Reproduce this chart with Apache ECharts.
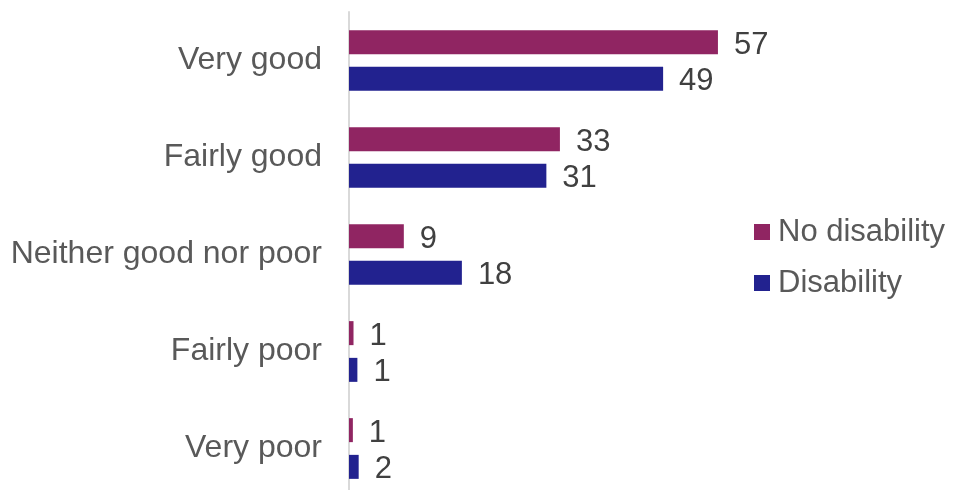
<!DOCTYPE html>
<html>
<head>
<meta charset="utf-8">
<script src="https://cdn.jsdelivr.net/npm/echarts@6/dist/echarts.min.js"></script>
<style>html,body{margin:0;padding:0;background:#fff;overflow:hidden}#c{width:953px;height:500px}</style>
</head>
<body>
<div id="c"></div>
<script>
const categories = ['Very good', 'Fairly good', 'Neither good nor poor', 'Fairly poor', 'Very poor'];
const noDisability = [57.2, 32.7, 8.5, 0.7, 0.6];
const disability = [48.7, 30.6, 17.5, 1.3, 1.5];
const seriesNames = ['No disability', 'Disability'];

const chart = echarts.init(document.getElementById('c'));
const font = 'Liberation Sans, Arial, sans-serif';
const lbl = {
  show: true, position: 'right', distance: 16, offset: [0, 3],
  fontFamily: font, fontSize: 31, color: '#404040',
  formatter: p => Math.round(p.value)
};
chart.setOption({
  animation: false,
  grid: { left: 349, top: 12, right: 217, bottom: 3 },
  xAxis: { type: 'value', min: 0, max: 60, show: false },
  yAxis: {
    type: 'category', data: categories, inverse: true,
    axisLine: { show: true, lineStyle: { color: '#d9d9d9', width: 2 } },
    axisTick: { show: false },
    axisLabel: { fontFamily: font, fontSize: 32, color: '#595959', margin: 27 }
  },
  legend: {
    orient: 'vertical', left: 754, top: 216, padding: 0,
    itemWidth: 16, itemHeight: 16, itemGap: 19, icon: 'rect',
    textStyle: { fontFamily: font, fontSize: 31, color: '#595959', lineHeight: 32, padding: [0, 0, 0, 3] },
    data: seriesNames
  },
  series: [
    { name: seriesNames[0], type: 'bar', data: noDisability, barWidth: 24, barGap: '53%',
      itemStyle: { color: '#902562' }, label: lbl },
    { name: seriesNames[1], type: 'bar', data: disability, barWidth: 24,
      itemStyle: { color: '#22228F' }, label: lbl }
  ]
});
</script>
</body>
</html>
